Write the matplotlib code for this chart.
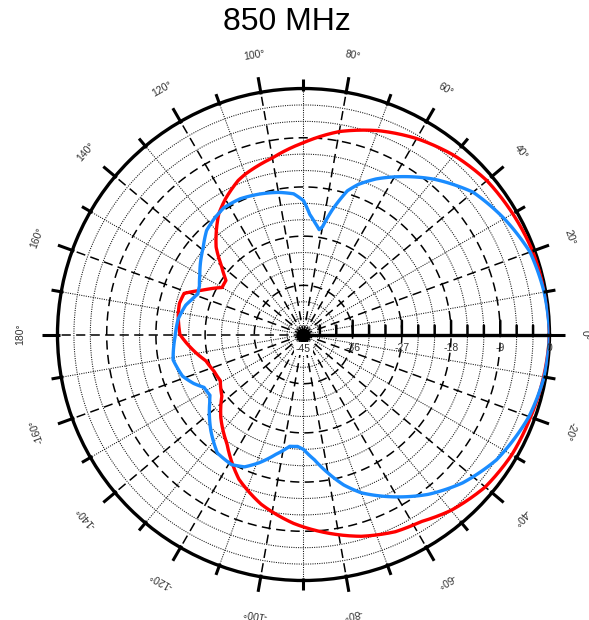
import numpy as np
import matplotlib
matplotlib.use("Agg")
import matplotlib.pyplot as plt
from matplotlib.transforms import offset_copy

# ---------------- data ----------------
title = "850 MHz"
r_min, r_max = -45, 0
radial_labels = [-45, -36, -27, -18, -9, 0]
angle_labels = [0, 20, 40, 60, 80, 100, 120, 140, 160, 180,
                -160, -140, -120, -100, -80, -60, -40, -20]

red_deg = [0, 10, 20, 30, 40, 50, 60, 70, 80, 90, 100, 110, 113, 120, 125, 130,
           135, 140, 145, 150, 156, 161, 166, 171, 180, 188, 195, 202, 209, 217,
           225, 235, 246, 256, 267, 277, 286, 295, 302, 310, 320, 330, 340, 350, 360]
red_db = [0, -0.2, -0.4, -0.8, -1.2, -2.2, -3.6, -5.3, -7.3, -9.9, -12.2, -13.8, -14.4,
          -16.4, -18.0, -20.2, -22.4, -25.4, -27.7, -27.8, -25.0, -21.9, -21.6, -21.8,
          -22.4, -24.6, -26.5, -27.3, -27.6, -26.3, -23.6, -20.6, -16.0, -13.0, -10.4,
          -8.4, -6.6, -5.2, -4.6, -3.0, -1.6, -1.0, -0.8, -0.4, 0]

blue_deg = [0, 10, 20, 30, 40, 50, 55, 60, 65, 70, 73, 77, 80, 81.5, 84, 87, 90, 94,
            100, 107, 115, 122, 128, 133, 139, 145, 150, 155, 159, 163, 166, 173, 181,
            191, 199, 204, 208, 213, 216, 221, 226, 234, 241, 246, 251, 257, 263, 267,
            270, 275, 280, 285, 290, 300, 308, 317, 327, 340, 350, 360]
blue_db = [0, -0.3, -0.9, -2.6, -4.5, -7.9, -9.8, -11.7, -13.6, -15.8, -17.5, -21.6,
           -25.0, -25.6, -24.5, -23.0, -20.5, -19.2, -18.6, -18.1, -17.6, -17.6, -18.3,
           -19.0, -20.7, -22.0, -23.1, -24.0, -24.3, -23.5, -22.8, -21.9, -21.5, -20.7,
           -21.6, -23.0, -24.4, -24.6, -23.8, -22.2, -20.6, -18.2, -17.8, -18.5, -20.2,
           -22.5, -24.4, -24.5, -24.0, -22.0, -19.3, -16.5, -14.2, -10.7, -7.9, -5.2,
           -2.9, -1.1, -0.3, 0]

# ---------------- figure ----------------
fig = plt.figure(figsize=(5.89, 6.2), dpi=100)
ax_rect = [0.0976, 0.0637, 0.8353, 0.7935]
ax = fig.add_axes(ax_rect, projection="polar")
ax.set_theta_zero_location("E")
ax.set_theta_direction(1)
ax.set_ylim(r_min, r_max)
ax.grid(False)
ax.set_xticks([])
ax.set_yticks([])
ax.spines["polar"].set_linewidth(2.4)
ax.spines["polar"].set_color("black")

th_full = np.linspace(0, 2 * np.pi, 721)

# circular grid every 3 dB
for rv in range(-42, 0, 3):
    if rv % 9 == 0:
        ax.plot(th_full, np.full_like(th_full, rv), color="black", lw=1.1,
                linestyle=(0, (6, 3.5)), zorder=1)
    else:
        ax.plot(th_full, np.full_like(th_full, rv), color="#111111", lw=0.75,
                linestyle=(0, (1, 1.2)), zorder=1)

# radial grid every 10 degrees
for a in range(10, 360, 10):
    t = np.deg2rad(a)
    if a % 20 == 0:
        ax.plot([t, t], [r_min, r_max], color="black", lw=1.1,
                linestyle=(0, (6, 3.5)), zorder=1)
    else:
        ax.plot([t, t], [r_min, r_max], color="#111111", lw=0.75,
                linestyle=(0, (1, 1.2)), zorder=1)

# outer ticks
for a in range(0, 360, 10):
    t = np.deg2rad(a)
    ext = 2.8 if a % 20 == 0 else 1.8
    ax.plot([t, t], [-0.4, ext], color="black", lw=2.2, clip_on=False,
            solid_capstyle="butt", zorder=5)

# radial axis on 0 deg
ax.plot([0, 0], [r_min, r_max], color="black", lw=2.4, zorder=4,
        solid_capstyle="butt")
for rv in range(-42, 0, 3):
    h = 10 if rv % 9 == 0 else 6.5
    ax.annotate("", xy=(0, rv), xytext=(0, h), textcoords="offset points",
                xycoords="data", annotation_clip=False,
                arrowprops=dict(arrowstyle="-", lw=1.8, color="black",
                                shrinkA=0, shrinkB=0), zorder=4)
ax.plot([0], [r_min], marker="o", markersize=9, color="black", zorder=4)

lab_tr = offset_copy(ax.transData, fig=fig, x=0, y=-10, units="points")
for rv in radial_labels:
    if rv == r_min:
        cx = ax_rect[0] + ax_rect[2] / 2
        cy = ax_rect[1] + ax_rect[3] / 2
        fig.text(cx, cy - 14 / 620, str(rv), ha="center", va="center",
                 fontsize=7.5, color="#333333", family="Liberation Sans",
                 zorder=10,
                 bbox=dict(boxstyle="square,pad=0.15", fc="white", ec="none"))
    else:
        ax.text(0, rv, str(rv), transform=lab_tr, ha="center", va="center",
                fontsize=7.5, color="#333333", family="Liberation Sans",
                zorder=6, clip_on=False)

# angle labels
for a in angle_labels:
    t = np.deg2rad(a)
    rr = 6.9 if a != 0 else 6.4
    ax.text(t, rr, f"{a}°", rotation=(a % 360) - 90, rotation_mode="anchor",
            ha="center", va="center", fontsize=7.5, color="#333333",
            family="Liberation Sans", clip_on=False)

# curves (drawn with the polar scale's own curved path interpolation)
for d, v, c in ((red_deg, red_db, "#ff0000"), (blue_deg, blue_db, "#1a8cff")):
    ln, = ax.plot(np.deg2rad(d), v, color=c, lw=2.4, zorder=3,
                  solid_joinstyle="round")
    ln.get_path()._interpolation_steps = 40

fig.text(0.487, 0.965, title, ha="center", va="center", fontsize=23,
         family="Liberation Sans")

fig.savefig("out.png", dpi=100)
